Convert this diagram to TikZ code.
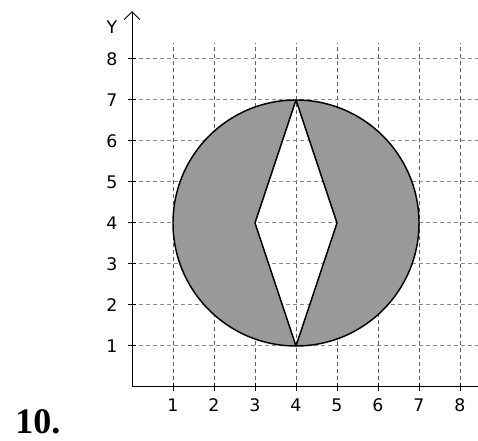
\documentclass[tikz,border=0pt]{standalone}
\usepackage{fontspec}
\newfontfamily\labfont{DejaVu Sans}
\newfontfamily\numfont{Liberation Serif}
\usetikzlibrary{arrows.meta}
\definecolor{fillgray}{HTML}{999999}
\definecolor{gridv}{HTML}{606060}
\definecolor{gridh}{HTML}{8A8A8A}
\tikzset{
  gridlineV/.style={gridv, line width=0.75pt, dash pattern=on 3pt off 2.25pt},
  gridlineH/.style={gridh, line width=0.75pt, dash pattern=on 3pt off 2.25pt},
  axisline/.style={black, line width=0.75pt},
  ticklab/.style={font=\labfont\fontsize{13}{13}\selectfont, inner sep=0pt},
  shapeline/.style={black, line width=1.1pt, line join=round}
}
\begin{document}
\begin{tikzpicture}[x=0.75pt,y=0.75pt]
\useasboundingbox (0,0) rectangle (478,441);
\node[anchor=base west, inner sep=0pt, font=\numfont\bfseries\fontsize{27}{27}\selectfont] (num) at (15,7) {10.};
\begin{scope}[shift={(99pt,40.5pt)}, x=30.75pt, y=30.75pt]
  % grid
  \foreach \i in {1,...,8} {
    \draw[gridlineV] (\i,0) -- (\i,8.39);
    \draw[gridlineH] (0,\i) -- (8.44,\i);
  }
  % shaded circle with diamond hole
  \coordinate (c) at (4,4);
  \coordinate (top) at (4,7);
  \coordinate (rt) at (5,4);
  \coordinate (bot) at (4,1);
  \coordinate (lt) at (3,4);
  \fill[fillgray, even odd rule] (c) circle[radius=3] (top) -- (rt) -- (bot) -- (lt) -- cycle;
  \draw[shapeline] (c) circle[radius=3];
  \draw[shapeline] (top) -- (rt) -- (bot) -- (lt) -- cycle;
  % axes
  \coordinate (o) at (0,0);
  \coordinate (xend) at (8.44,0);
  \coordinate (yend) at (0,9.17);
  \draw[axisline] (o) -- (xend);
  \draw[axisline, -{Straight Barb[length=6pt,width=12pt,line width=0.75pt]}] (o) -- (yend);
  \node[ticklab] (ylab) at (-0.49,8.78) {Y};
  \foreach \i in {1,...,8} {
    \draw[axisline] (\i,-0.1) -- (\i,0.1);
    \draw[axisline] (-0.1,\i) -- (0.1,\i);
    \node[ticklab] (xl\i) at (\i,-0.44) {\i};
    \node[ticklab] (yl\i) at (-0.49,\i) {\i};
  }
\end{scope}
\end{tikzpicture}
\end{document}
